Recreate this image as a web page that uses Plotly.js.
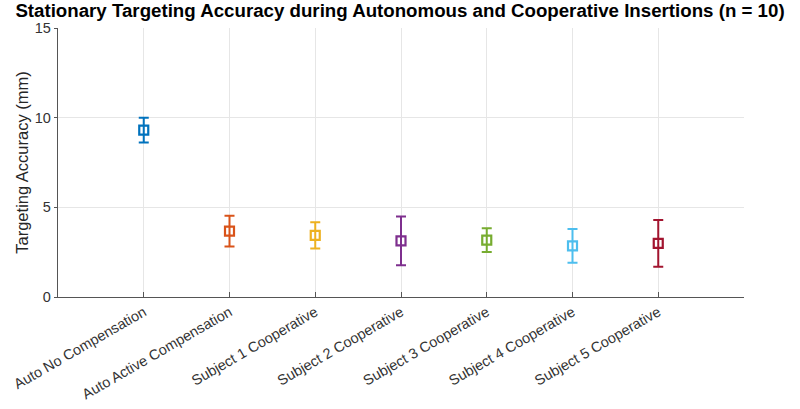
<!DOCTYPE html>
<html>
<head>
<meta charset="utf-8">
<script src="https://cdn.plot.ly/plotly-3.0.1.min.js"></script>
<style>html,body{margin:0;padding:0;background:#fff}#chart{width:800px;height:409px}</style>
</head>
<body>
<div id="chart"></div>
<script>
const categories = ["Auto No Compensation", "Auto Active Compensation", "Subject 1 Cooperative", "Subject 2 Cooperative", "Subject 3 Cooperative", "Subject 4 Cooperative", "Subject 5 Cooperative"];
const means = [9.31, 3.67, 3.44, 3.13, 3.17, 2.85, 2.99];
const errors = [0.69, 0.86, 0.73, 1.36, 0.66, 0.94, 1.30];
const colors = ["#0072BD", "#D95319", "#EDB120", "#7E2F8E", "#77AC30", "#4DBEEE", "#A2142F"];

const traces = categories.map((c, i) => ({
  type: "scatter",
  mode: "markers",
  x: [c],
  y: [means[i]],
  marker: {symbol: "square-open", size: 9, color: colors[i], line: {width: 2.2, color: colors[i]}},
  error_y: {type: "data", array: [errors[i]], visible: true, color: colors[i], thickness: 2, width: 5},
  showlegend: false,
  hoverinfo: "x+y"
}));

const layout = {
  width: 800, height: 409,
  margin: {l: 58, r: 56, t: 28, b: 112},
  paper_bgcolor: "#fff", plot_bgcolor: "#fff",
  font: {family: "Liberation Sans, Arial, sans-serif", color: "#262626"},
  title: {text: "<b>Stationary Targeting Accuracy during Autonomous and Cooperative Insertions (n = 10)</b>", font: {size: 18.7, color: "#000"}, x: 0.5, xanchor: "center", y: 0.99, yanchor: "top"},
  xaxis: {
    type: "category", categoryorder: "array", categoryarray: categories,
    range: [-1, 7], tickangle: -30, tickfont: {size: 14.5, color: "#333"},
    showgrid: true, gridcolor: "#e6e6e6", gridwidth: 1,
    showline: true, linecolor: "#555", linewidth: 1.2,
    ticks: "inside", ticklen: 5, tickcolor: "#555",
    zeroline: false, fixedrange: true
  },
  yaxis: {
    range: [0, 15], tickvals: [0, 5, 10, 15],
    tickfont: {size: 14.5, color: "#333"},
    title: {text: "Targeting Accuracy (mm)", font: {size: 16.5, color: "#262626"}, standoff: 2},
    showgrid: true, gridcolor: "#e6e6e6", gridwidth: 1,
    showline: true, linecolor: "#555", linewidth: 1.2,
    ticks: "outside", ticklen: 3, tickcolor: "#555",
    zeroline: false, fixedrange: true
  }
};

Plotly.newPlot("chart", traces, layout, {displayModeBar: false, staticPlot: true});
</script>
</body>
</html>
